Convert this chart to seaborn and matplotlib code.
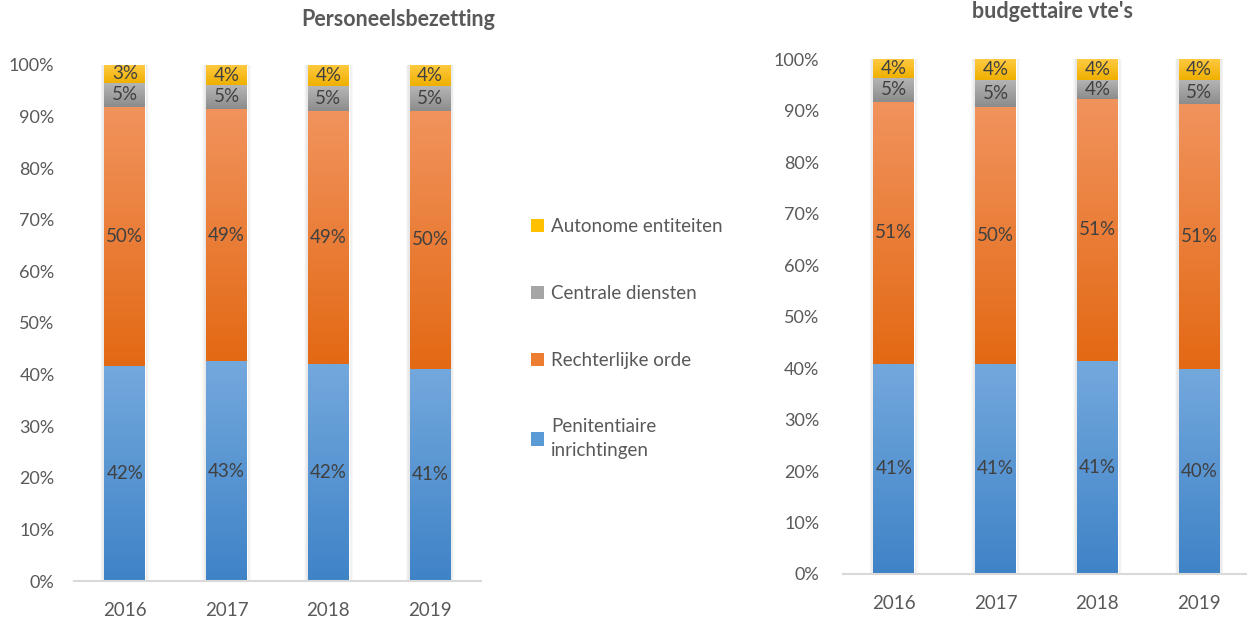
import numpy as np
import pandas as pd
import matplotlib
matplotlib.use("Agg")
import matplotlib.pyplot as plt
import seaborn as sns
from matplotlib.colors import LinearSegmentedColormap
from matplotlib.patches import Patch, Rectangle

# data (shares per year)
jaren = ["2016", "2017", "2018", "2019"]
series = ["Penitentiaire\ninrichtingen", "Rechterlijke orde", "Centrale diensten", "Autonome entiteiten"]

pers_pen = [41.6, 42.6, 42.1, 41.1]
pers_recht = [50.3, 48.9, 49.0, 50.0]
pers_centr = [4.7, 4.6, 4.8, 4.8]
pers_auto = [3.4, 3.9, 4.1, 4.1]

vte_pen = [40.8, 40.8, 41.3, 39.8]
vte_recht = [50.9, 49.9, 51.0, 51.4]
vte_centr = [4.7, 5.3, 3.7, 4.7]
vte_auto = [3.6, 4.0, 4.0, 4.1]

# gradient colours (top, bottom) per series
grad = [("#73a8dd", "#3f83c7"), ("#f1935d", "#e36914"), ("#b6b6b6", "#8c8c8c"), ("#ffca42", "#efb000")]
legend_cols = ["#5b9bd5", "#ed7d31", "#a5a5a5", "#ffc000"]

sns.set_theme(style="white")
plt.rcParams["font.family"] = ["Lato", "DejaVu Sans"]
txt = "#595959"

fig = plt.figure(figsize=(12.47, 6.2), dpi=100)
ax1 = fig.add_axes([0.0593, 0.0629, 0.3264, 0.8323])
ax2 = fig.add_axes([0.676, 0.0742, 0.3264, 0.8306])


def stacked(ax, vals):
    bottom = np.zeros(len(jaren))
    segs = []
    for i, v in enumerate(vals):
        v = np.array(v) / 100
        df = pd.DataFrame({"jaar": jaren, "aandeel": v})
        n0 = len(ax.patches)
        sns.barplot(data=df, x="jaar", y="aandeel", color=legend_cols[i], width=0.4,
                    bottom=bottom.copy(), ax=ax, errorbar=None, saturation=1, zorder=3)
        segs.append((ax.patches[n0:], v, bottom.copy(), i))
        bottom += v
    # soft shadow round each column
    for p in segs[0][0]:
        x0, w = p.get_x(), p.get_width()
        for k in range(1, 6):
            dx = k * 0.0075
            ax.add_patch(Rectangle((x0 - dx, 0), w + 2 * dx, 1.0 + k * 0.0015,
                                   color="#7f7f7f", alpha=0.045, lw=0, zorder=2))
    # gradient fill + value labels
    for patches, v, bot, i in segs:
        cmap = LinearSegmentedColormap.from_list("g", [grad[i][1], grad[i][0]])
        for p, val, b in zip(patches, v, bot):
            x0, y0, w, h = p.get_x(), p.get_y(), p.get_width(), p.get_height()
            im = ax.imshow(np.linspace(0, 1, 100).reshape(-1, 1), cmap=cmap, origin="lower",
                           extent=[x0, x0 + w, y0, y0 + h], aspect="auto", zorder=4)
            im.set_clip_path(p)
            ax.text(x0 + w / 2, y0 + h / 2, f"{round(val * 100):.0f}%", ha="center", va="center",
                    fontsize=13.5, color="#404040", zorder=5)
    ax.set_xlim(-0.5, 3.5)
    ax.set_ylim(0, 1)
    ax.set_yticks(np.arange(0, 1.01, 0.1))
    ax.set_yticklabels([f"{t}%" for t in range(0, 101, 10)])
    ax.set_xlabel("")
    ax.set_ylabel("")
    for s in ["top", "right", "left"]:
        ax.spines[s].set_visible(False)
    ax.spines["bottom"].set_color("#d9d9d9")
    ax.spines["bottom"].set_linewidth(1.5)
    ax.spines["bottom"].set_zorder(6)
    ax.tick_params(axis="both", length=0, labelsize=13.5, colors=txt)
    ax.tick_params(axis="y", labelsize=13, pad=14)
    ax.tick_params(axis="x", pad=15)
    ax.grid(False)


stacked(ax1, [pers_pen, pers_recht, pers_centr, pers_auto])
stacked(ax2, [vte_pen, vte_recht, vte_centr, vte_auto])
ax2.tick_params(axis="y", pad=17)

fig.text(0.319, 0.969, "Personeelsbezetting", ha="center", va="center", fontsize=15.5,
         fontweight="bold", color=txt)
fig.text(0.844, 0.981, "budgettaire vte's", ha="center", va="center", fontsize=15.5,
         fontweight="bold", color=txt)

handles = [Patch(facecolor=legend_cols[i], edgecolor="none") for i in range(4)][::-1]
leg = fig.legend(handles, series[::-1], loc="upper left", bbox_to_anchor=(0.412, 0.675),
                 frameon=False, fontsize=13.5, labelcolor=txt, labelspacing=2.65,
                 handlelength=0.7, handleheight=0.7, handletextpad=0.4)
for t in leg.get_texts():
    t.set_linespacing(1.45)

fig.savefig("out.png", dpi=100)
